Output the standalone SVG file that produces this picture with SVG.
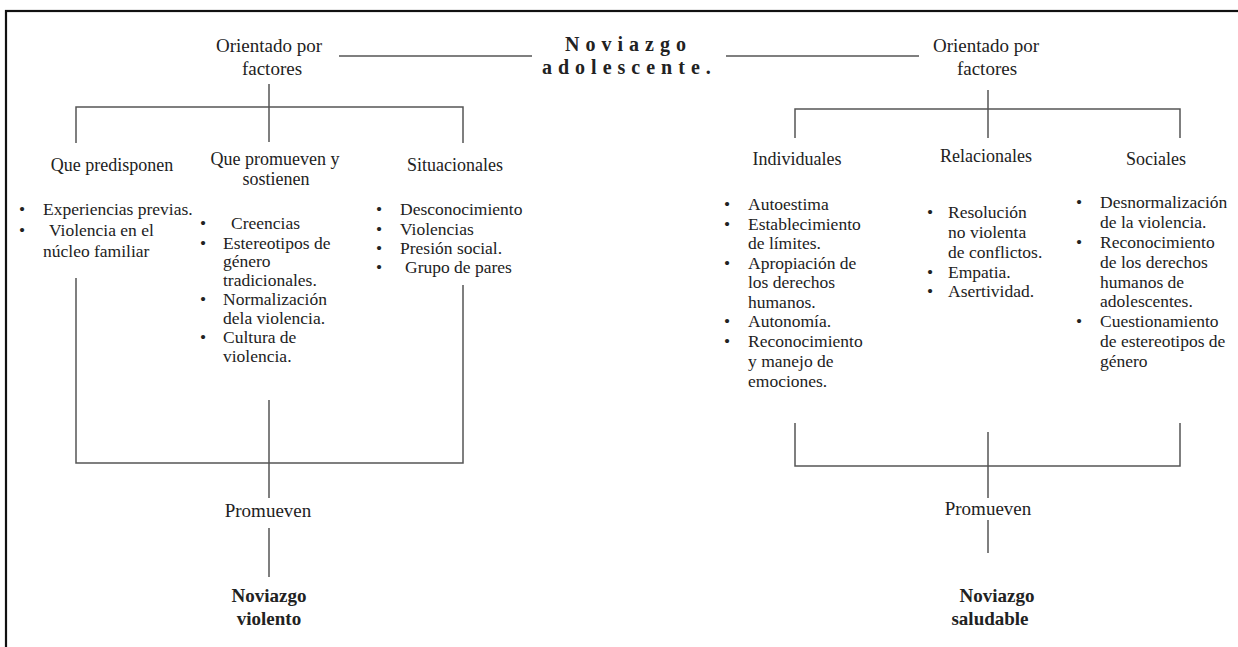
<svg xmlns="http://www.w3.org/2000/svg" width="1238" height="647" viewBox="0 0 1238 647">
<style>
text{font-family:"Liberation Serif","Times New Roman",serif;fill:#222}
.h{font-size:18px;text-anchor:middle}
.o{font-size:19px;text-anchor:middle}
.b{font-size:17.5px}
.t{font-size:20px;font-weight:bold;letter-spacing:6px}
.f{font-size:19px;font-weight:bold;text-anchor:middle}
.ln{stroke:#555;stroke-width:1.5;fill:none}
</style>
<rect x="6" y="11" width="1250" height="660" fill="#fff" stroke="#111" stroke-width="2.2"/>
<g id="connectors" class="ln">
<line x1="339" y1="56" x2="532" y2="56"/>
<line x1="726" y1="56" x2="919" y2="56"/>
<line x1="269" y1="84" x2="269" y2="142"/>
<polyline points="76,143 76,107 463,107 463,143"/>
<line x1="988" y1="90" x2="988" y2="138"/>
<polyline points="795,138 795,109 1180,109 1180,138"/>
<polyline points="76,278 76,463 463,463 463,285"/>
<line x1="269" y1="400" x2="269" y2="498"/>
<line x1="269" y1="528" x2="269" y2="577"/>
<polyline points="795,423 795,466 1180,466 1180,423"/>
<line x1="988" y1="432" x2="988" y2="498"/>
<line x1="988" y1="520" x2="988" y2="553"/>
</g>
<g id="title">
<text class="t" x="565" y="51">Noviazgo</text>
<text class="t" x="542" y="74">adolescente.</text>
</g>
<g id="orient-left"><text class="o" x="269" y="52">Orientado por</text><text class="o" x="272" y="75">factores</text></g>
<g id="orient-right"><text class="o" x="986" y="52">Orientado por</text><text class="o" x="987" y="75">factores</text></g>
<g id="predisponen">
<text class="h" x="112" y="171">Que predisponen</text>
<text class="b" x="19" y="215">•</text><text class="b" x="43" y="215">Experiencias previas.</text>
<text class="b" x="19" y="236">•</text><text class="b" x="49" y="236">Violencia en el</text>
<text class="b" x="43" y="257">núcleo familiar</text>
</g>
<g id="promueven-sostienen">
<text class="h" x="275" y="165">Que promueven y</text>
<text class="h" x="276" y="185">sostienen</text>
<text class="b" x="200" y="229">•</text><text class="b" x="231" y="229">Creencias</text>
<text class="b" x="200" y="249">•</text><text class="b" x="223" y="249">Estereotipos de</text>
<text class="b" x="223" y="267">género</text>
<text class="b" x="223" y="286">tradicionales.</text>
<text class="b" x="200" y="305">•</text><text class="b" x="223" y="305">Normalización</text>
<text class="b" x="223" y="324">dela violencia.</text>
<text class="b" x="200" y="343">•</text><text class="b" x="223" y="343">Cultura de</text>
<text class="b" x="223" y="362">violencia.</text>
</g>
<g id="situacionales">
<text class="h" x="455" y="171">Situacionales</text>
<text class="b" x="376" y="215">•</text><text class="b" x="400" y="215">Desconocimiento</text>
<text class="b" x="376" y="235">•</text><text class="b" x="400" y="235">Violencias</text>
<text class="b" x="376" y="254">•</text><text class="b" x="400" y="254">Presión social.</text>
<text class="b" x="376" y="273">•</text><text class="b" x="405" y="273">Grupo de pares</text>
</g>
<g id="individuales">
<text class="h" x="797" y="165">Individuales</text>
<text class="b" x="724" y="210">•</text><text class="b" x="748" y="210">Autoestima</text>
<text class="b" x="724" y="230">•</text><text class="b" x="748" y="230">Establecimiento</text>
<text class="b" x="748" y="249">de límites.</text>
<text class="b" x="724" y="269">•</text><text class="b" x="748" y="269">Apropiación de</text>
<text class="b" x="748" y="288">los derechos</text>
<text class="b" x="748" y="308">humanos.</text>
<text class="b" x="724" y="327">•</text><text class="b" x="748" y="327">Autonomía.</text>
<text class="b" x="724" y="347">•</text><text class="b" x="748" y="347">Reconocimiento</text>
<text class="b" x="748" y="367">y manejo de</text>
<text class="b" x="748" y="387">emociones.</text>
</g>
<g id="relacionales">
<text class="h" x="986" y="162">Relacionales</text>
<text class="b" x="927" y="218">•</text><text class="b" x="948" y="218">Resolución</text>
<text class="b" x="948" y="238">no violenta</text>
<text class="b" x="948" y="258">de conflictos.</text>
<text class="b" x="927" y="278">•</text><text class="b" x="948" y="278">Empatia.</text>
<text class="b" x="927" y="297">•</text><text class="b" x="948" y="297">Asertividad.</text>
</g>
<g id="sociales">
<text class="h" x="1156" y="165">Sociales</text>
<text class="b" x="1076" y="208">•</text><text class="b" x="1100" y="208">Desnormalización</text>
<text class="b" x="1100" y="228">de la violencia.</text>
<text class="b" x="1076" y="248">•</text><text class="b" x="1100" y="248">Reconocimiento</text>
<text class="b" x="1100" y="268">de los derechos</text>
<text class="b" x="1100" y="288">humanos de</text>
<text class="b" x="1100" y="307">adolescentes.</text>
<text class="b" x="1076" y="327">•</text><text class="b" x="1100" y="327">Cuestionamiento</text>
<text class="b" x="1100" y="347">de estereotipos de</text>
<text class="b" x="1100" y="367">género</text>
</g>
<g id="promueven-left"><text class="o" x="268" y="517">Promueven</text></g>
<g id="promueven-right"><text class="o" x="988" y="515">Promueven</text></g>
<g id="violento"><text class="f" x="269" y="602">Noviazgo</text><text class="f" x="269" y="625">violento</text></g>
<g id="saludable"><text class="f" x="997" y="602">Noviazgo</text><text class="f" x="990" y="625">saludable</text></g>
</svg>
